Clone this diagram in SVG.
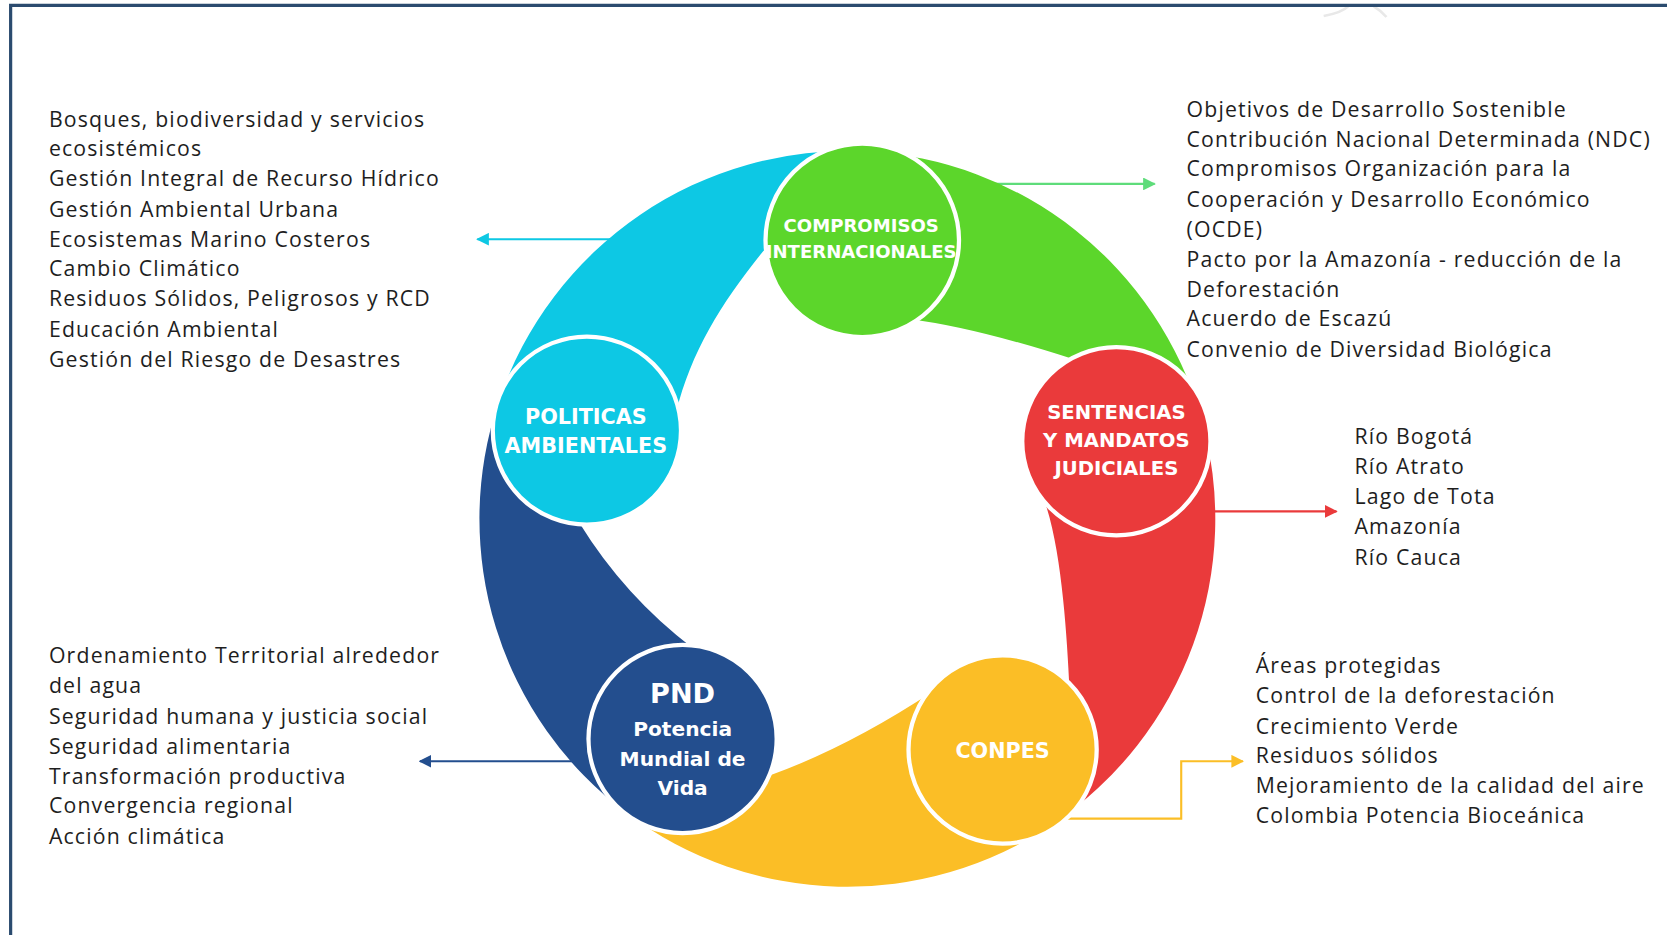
<svg xmlns="http://www.w3.org/2000/svg" width="1667" height="935" viewBox="0 0 1667 935">
<defs>
<style>
.lst{font-family:"Open Sans","Liberation Sans",sans-serif;font-size:20px;letter-spacing:1.1px;fill:#1e1e1e}
.lbl{font-family:"DejaVu Sans","Liberation Sans",sans-serif;font-weight:700;fill:#ffffff;text-anchor:middle}
.node{stroke:#ffffff;stroke-width:4}
.con{fill:none;stroke-width:2}
</style>
<marker id="mc" viewBox="0 0 10 10" refX="9" refY="5" markerUnits="userSpaceOnUse" markerWidth="12" markerHeight="12" orient="auto"><path d="M0,0 L10,5 L0,10 z" fill="#0DC8E4"/></marker>
<marker id="mg" viewBox="0 0 10 10" refX="9" refY="5" markerUnits="userSpaceOnUse" markerWidth="12" markerHeight="12" orient="auto"><path d="M0,0 L10,5 L0,10 z" fill="#5EDC7A"/></marker>
<marker id="mr" viewBox="0 0 10 10" refX="9" refY="5" markerUnits="userSpaceOnUse" markerWidth="12" markerHeight="12" orient="auto"><path d="M0,0 L10,5 L0,10 z" fill="#EA3A3B"/></marker>
<marker id="my" viewBox="0 0 10 10" refX="9" refY="5" markerUnits="userSpaceOnUse" markerWidth="12" markerHeight="12" orient="auto"><path d="M0,0 L10,5 L0,10 z" fill="#FBBE26"/></marker>
<marker id="mb" viewBox="0 0 10 10" refX="9" refY="5" markerUnits="userSpaceOnUse" markerWidth="12" markerHeight="12" orient="auto"><path d="M0,0 L10,5 L0,10 z" fill="#234E8E"/></marker>
</defs>
<rect width="1667" height="935" fill="#ffffff"/>
<g transform="scale(1.0632)">
<g id="frame">
<path d="M1245,15 Q1262,12 1268,6 M1292,6 Q1299,10 1304,16" fill="none" stroke="#e8e8e8" stroke-width="2.5"/>
<path d="M10,880 V5 H1568" fill="none" stroke="#2B4B6F" stroke-width="3"/>
</g>
<g id="connectors">
<path class="con" d="M600,225 H449" stroke="#0DC8E4" marker-end="url(#mc)"/>
<path class="con" d="M930,173 H1086" stroke="#5EDC7A" marker-end="url(#mg)"/>
<path class="con" d="M1125,481 H1257" stroke="#EA3A3B" marker-end="url(#mr)"/>
<path class="con" d="M1000,770 H1111 V716 H1169" stroke="#FBBE26" marker-end="url(#my)"/>
<path class="con" d="M570,716 H395" stroke="#234E8E" marker-end="url(#mb)"/>
</g>
<g id="ring">
<path d="M469.1,377.4 A346,346 0 0 1 814.2,142.4 L718,236 C680,283 650,330 636,388 Z" fill="#0DC8E4"/>
<path d="M814.2,142.4 A346,346 0 0 1 1129.5,392.1 L1010,338 Q917.5,308 855,300 Z" fill="#5CD62B"/>
<path d="M1129.5,392.1 A346,346 0 0 1 990.2,775.1 L1006,648 C1003.5,598 998.8,517 982,470 Z" fill="#EA3A3B"/>
<path d="M990.2,775.1 A346,346 0 0 1 589.6,765 L722,730 Q796,704 878,650 Z" fill="#FBBE26"/>
<path d="M589.6,765 A346,346 0 0 1 469.1,377.4 L545,492 Q587.5,561 652,610 Z" fill="#234E8E"/>
</g>
<g id="node-compromisos">
<circle class="node" cx="811" cy="226" r="91" fill="#5CD62B"/>
<text class="lbl" x="810" y="218.5" font-size="17">COMPROMISOS</text>
<text class="lbl" x="810" y="242.5" font-size="17">INTERNACIONALES</text>
</g>
<g id="node-politicas">
<circle class="node" cx="552" cy="405" r="88.5" fill="#0DC8E4"/>
<text class="lbl" x="551" y="399" font-size="19.5">POLITICAS</text>
<text class="lbl" x="551" y="426" font-size="19.5">AMBIENTALES</text>
</g>
<g id="node-sentencias">
<circle class="node" cx="1050" cy="415" r="88.5" fill="#EA3A3B"/>
<text class="lbl" x="1050" y="394.5" font-size="18.5">SENTENCIAS</text>
<text class="lbl" x="1050" y="420.5" font-size="18.5">Y MANDATOS</text>
<text class="lbl" x="1050" y="446.5" font-size="18.5">JUDICIALES</text>
</g>
<g id="node-conpes">
<circle class="node" cx="943" cy="705" r="88.5" fill="#FBBE26"/>
<text class="lbl" x="943" y="713" font-size="19.5">CONPES</text>
</g>
<g id="node-pnd">
<circle class="node" cx="642" cy="695" r="88.5" fill="#234E8E"/>
<text class="lbl" x="642" y="661.5" font-size="25.5">PND</text>
<text class="lbl" x="642" y="692" font-size="19">Potencia</text>
<text class="lbl" x="642" y="720" font-size="19">Mundial de</text>
<text class="lbl" x="642" y="748" font-size="19">Vida</text>
</g>
<g id="list-politicas">
<text class="lst" x="46" y="119">Bosques, biodiversidad y servicios</text>
<text class="lst" x="46" y="147">ecosistémicos</text>
<text class="lst" x="46" y="175">Gestión Integral de Recurso Hídrico</text>
<text class="lst" x="46" y="204">Gestión Ambiental Urbana</text>
<text class="lst" x="46" y="232">Ecosistemas Marino Costeros</text>
<text class="lst" x="46" y="260">Cambio Climático</text>
<text class="lst" x="46" y="288">Residuos Sólidos, Peligrosos y RCD</text>
<text class="lst" x="46" y="317">Educación Ambiental</text>
<text class="lst" x="46" y="345">Gestión del Riesgo de Desastres</text>
</g>
<g id="list-compromisos">
<text class="lst" x="1116" y="110">Objetivos de Desarrollo Sostenible</text>
<text class="lst" x="1116" y="138">Contribución Nacional Determinada (NDC)</text>
<text class="lst" x="1116" y="166">Compromisos Organización para la</text>
<text class="lst" x="1116" y="195">Cooperación y Desarrollo Económico</text>
<text class="lst" x="1116" y="223">(OCDE)</text>
<text class="lst" x="1116" y="251">Pacto por la Amazonía - reducción de la</text>
<text class="lst" x="1116" y="279">Deforestación</text>
<text class="lst" x="1116" y="307">Acuerdo de Escazú</text>
<text class="lst" x="1116" y="336">Convenio de Diversidad Biológica</text>
</g>
<g id="list-sentencias">
<text class="lst" x="1274" y="418">Río Bogotá</text>
<text class="lst" x="1274" y="446">Río Atrato</text>
<text class="lst" x="1274" y="474">Lago de Tota</text>
<text class="lst" x="1274" y="502">Amazonía</text>
<text class="lst" x="1274" y="531">Río Cauca</text>
</g>
<g id="list-conpes">
<text class="lst" x="1181" y="633">Áreas protegidas</text>
<text class="lst" x="1181" y="661">Control de la deforestación</text>
<text class="lst" x="1181" y="690">Crecimiento Verde</text>
<text class="lst" x="1181" y="718">Residuos sólidos</text>
<text class="lst" x="1181" y="746">Mejoramiento de la calidad del aire</text>
<text class="lst" x="1181" y="774">Colombia Potencia Bioceánica</text>
</g>
<g id="list-pnd">
<text class="lst" x="46" y="624">Ordenamiento Territorial alrededor</text>
<text class="lst" x="46" y="652">del agua</text>
<text class="lst" x="46" y="681">Seguridad humana y justicia social</text>
<text class="lst" x="46" y="709">Seguridad alimentaria</text>
<text class="lst" x="46" y="737">Transformación productiva</text>
<text class="lst" x="46" y="765">Convergencia regional</text>
<text class="lst" x="46" y="794">Acción climática</text>
</g>
</g>
</svg>
